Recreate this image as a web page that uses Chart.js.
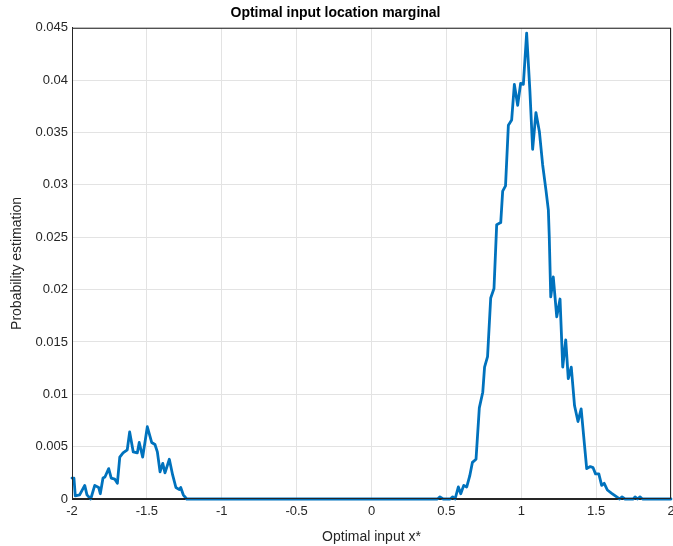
<!DOCTYPE html>
<html>
<head>
<meta charset="utf-8">
<script src="https://cdn.jsdelivr.net/npm/chart.js@4.4.1/dist/chart.umd.min.js"></script>
<style>
  html, body { margin: 0; padding: 0; background: #fff; }
  #wrap { width: 673px; height: 546px; }
</style>
</head>
<body>
<div id="wrap"><canvas id="myChart"></canvas></div>
<script>
// x positions and estimated probabilities
var xData = [
  -2.0, -1.987, -1.978, -1.949, -1.915, -1.900, -1.875, -1.848, -1.822, -1.811,
  -1.793, -1.780, -1.755, -1.738, -1.715, -1.697, -1.681, -1.659, -1.631, -1.615,
  -1.591, -1.564, -1.551, -1.528, -1.497, -1.468, -1.446, -1.430, -1.412, -1.394,
  -1.379, -1.350, -1.328, -1.306, -1.283, -1.274, -1.257, -1.234,
  0.440, 0.457, 0.479, 0.525, 0.542, 0.558, 0.580, 0.596, 0.616, 0.636,
  0.656, 0.674, 0.698, 0.720, 0.743, 0.755, 0.775, 0.796, 0.818, 0.836,
  0.863, 0.876, 0.895, 0.914, 0.936, 0.954, 0.976, 0.996, 1.014, 1.036,
  1.058, 1.076, 1.098, 1.121, 1.143, 1.165, 1.181, 1.187, 1.197, 1.214,
  1.237, 1.259, 1.277, 1.297, 1.314, 1.334, 1.356, 1.379, 1.400, 1.437,
  1.461, 1.479, 1.496, 1.518, 1.537, 1.554, 1.575, 1.604, 1.635, 1.657,
  1.673, 1.693, 1.748, 1.760, 1.776, 1.793, 1.810, 2.0
];
var yData = [
  0.0020, 0.0020, 0.0003, 0.0004, 0.0013, 0.0004, 0.0000, 0.0013, 0.0011, 0.0005,
  0.0020, 0.0021, 0.0029, 0.0020, 0.0019, 0.0015, 0.0040, 0.0044, 0.0047, 0.0064,
  0.0045, 0.0044, 0.0054, 0.0040, 0.0069, 0.0054, 0.0052, 0.0045, 0.0026, 0.0034,
  0.0025, 0.0038, 0.0023, 0.0011, 0.0009, 0.0011, 0.0004, 0.0000,
  0.0000, 0.0002, 0.0000, 0.0000, 0.0002, 0.0000, 0.00115, 0.0005, 0.0013, 0.00115,
  0.0022, 0.0035, 0.0038, 0.0087, 0.0102, 0.0126, 0.0136, 0.0192, 0.0201, 0.0262,
  0.0264, 0.0294, 0.0299, 0.0357, 0.0362, 0.0396, 0.0376, 0.0397, 0.0396, 0.0445,
  0.0389, 0.0334, 0.0369, 0.0351, 0.0319, 0.0295, 0.0276, 0.0251, 0.0193, 0.0212,
  0.0174, 0.0191, 0.0126, 0.0152, 0.0115, 0.0126, 0.0089, 0.0074, 0.0086, 0.0029,
  0.0031, 0.0030, 0.0024, 0.0024, 0.0013, 0.0015, 0.00086, 0.00054, 0.00022, 0.0000,
  0.0002, 0.0000, 0.0000, 0.0002, 0.0000, 0.0002, 0.0000, 0.0000
];
var xTicks = [-2, -1.5, -1, -0.5, 0, 0.5, 1, 1.5, 2];
var yTicks = [0, 0.005, 0.01, 0.015, 0.02, 0.025, 0.03, 0.035, 0.04, 0.045];

var points = xData.map(function (x, i) { return { x: x, y: yData[i] }; });

var axisColor = '#262626';
var gridColor = '#e3e3e3';
var font = { family: 'Liberation Sans, Arial, Helvetica, sans-serif', size: 13 };

// MATLAB style closed box round the axes
var boxPlugin = {
  id: 'box',
  afterDraw: function (chart) {
    var a = chart.chartArea, c = chart.ctx;
    c.save();
    c.strokeStyle = axisColor;
    c.lineWidth = 1;
    c.strokeRect(a.left + 0.5, a.top + 0.5, a.right - a.left - 1, a.bottom - a.top - 1);
    c.restore();
  }
};

const ctx = document.getElementById('myChart').getContext('2d');
var myChart = new Chart(ctx, {
  type: 'scatter',
  data: {
    datasets: [{
      data: points,
      showLine: true,
      borderColor: '#0072BD',
      borderWidth: 2.8,
      borderJoinStyle: 'round',
      borderCapStyle: 'round',
      pointRadius: 0,
      tension: 0,
      clip: 2
    }]
  },
  options: {
    responsive: true,
    maintainAspectRatio: false,
    animation: false,
    layout: { padding: { left: 0, right: 2, top: 0, bottom: 0 } },
    plugins: {
      legend: { display: false },
      tooltip: { enabled: false },
      title: {
        display: true,
        text: 'Optimal input location marginal',
        color: '#000',
        font: { family: font.family, size: 14, weight: 'bold' },
        padding: { top: 5, bottom: 6 }
      }
    },
    scales: {
      x: {
        type: 'linear',
        min: -2,
        max: 2,
        afterBuildTicks: function (s) { s.ticks = xTicks.map(function (v) { return { value: v }; }); },
        afterFit: function (s) { s.height = 47; s.paddingLeft = 0; s.paddingRight = 0; },
        ticks: {
          color: axisColor,
          font: font,
          padding: 5,
          maxRotation: 0,
          callback: function (v) { return String(v); }
        },
        grid: { color: gridColor, drawTicks: false },
        border: { color: axisColor },
        title: {
          display: true,
          text: 'Optimal input x*',
          color: axisColor,
          font: { family: font.family, size: 14 },
          padding: { top: 6, bottom: 0 }
        }
      },
      y: {
        type: 'linear',
        min: 0,
        max: 0.045,
        afterBuildTicks: function (s) { s.ticks = yTicks.map(function (v) { return { value: v }; }); },
        afterFit: function (s) { s.width = 72; },
        ticks: {
          color: axisColor,
          font: font,
          padding: 4,
          callback: function (v) { return String(Number(v.toFixed(3))); }
        },
        grid: { color: gridColor, drawTicks: false },
        border: { color: axisColor },
        title: {
          display: true,
          text: 'Probability estimation',
          color: axisColor,
          font: { family: font.family, size: 14 },
          padding: { top: 9, bottom: 0 }
        }
      }
    }
  },
  plugins: [boxPlugin]
});
</script>
</body>
</html>
